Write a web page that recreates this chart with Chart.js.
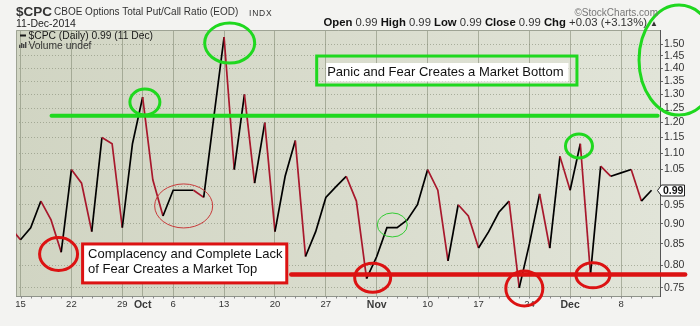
<!DOCTYPE html>
<html><head><meta charset="utf-8">
<script src="https://cdn.jsdelivr.net/npm/chart.js@4.4.0/dist/chart.umd.min.js"></script>
<style>
html,body{margin:0;padding:0;background:#f3f3f1;}
#wrap{position:relative;width:700px;height:326px;overflow:hidden;font-family:"Liberation Sans",Arial,sans-serif;}
canvas{position:absolute;left:0;top:0;}
.t{position:absolute;white-space:nowrap;line-height:1;color:#222;}
.t b{font-weight:bold;color:#111;}
</style></head><body>
<div id="wrap">
<canvas id="c" width="700" height="326"></canvas>
<div class="t" style="left:16px;top:4.5px;font-size:13.5px;font-weight:bold;color:#333;">$CPC</div>
<div class="t" style="left:54px;top:7px;font-size:10px;color:#333;">CBOE Options Total Put/Call Ratio (EOD)</div>
<div class="t" style="left:249px;top:8.5px;font-size:8.5px;letter-spacing:0.8px;color:#333;">INDX</div>
<div class="t" style="left:16px;top:17.6px;font-size:10.5px;color:#222;">11-Dec-2014</div>
<div class="t" style="right:42px;top:7.5px;font-size:10px;color:#777;">©StockCharts.com</div>
<div class="t" style="right:42px;top:16.5px;font-size:11.3px;color:#333;"><b>Open</b> 0.99 <b>High</b> 0.99 <b>Low</b> 0.99 <b>Close</b> 0.99 <b>Chg</b> +0.03 (+3.13%) <span style="font-size:8px">▲</span></div>
</div>
<script>
// ---- data ----
const dates = [
 'Sep 12','Sep 15','Sep 16','Sep 17','Sep 18','Sep 19','Sep 22','Sep 23','Sep 24','Sep 25','Sep 26','Sep 29','Sep 30',
 'Oct 1','Oct 2','Oct 3','Oct 6','Oct 7','Oct 8','Oct 9','Oct 10','Oct 13','Oct 14','Oct 15','Oct 16','Oct 17',
 'Oct 20','Oct 21','Oct 22','Oct 23','Oct 24','Oct 27','Oct 28','Oct 29','Oct 30','Oct 31',
 'Nov 3','Nov 4','Nov 5','Nov 6','Nov 7','Nov 10','Nov 11','Nov 12','Nov 13','Nov 14','Nov 17','Nov 18','Nov 19',
 'Nov 20','Nov 21','Nov 24','Nov 25','Nov 26','Nov 28',
 'Dec 1','Dec 2','Dec 3','Dec 4','Dec 5','Dec 8','Dec 9','Dec 10','Dec 11'
];
const ratios = [
 0.89,0.86,0.89,0.96,0.91,0.83,1.05,1.01,0.88,1.15,1.13,0.89,1.13,
 1.29,1.02,0.92,0.99,0.99,0.99,0.97,1.22,1.53,1.05,1.30,1.01,1.20,
 0.88,1.03,1.14,0.82,0.88,0.97,1.00,1.03,0.96,0.77,
 0.82,0.89,0.89,0.91,0.95,1.05,0.99,0.81,0.95,0.92,0.84,0.88,0.93,
 0.96,0.75,0.85,0.98,0.84,1.09,
 0.99,1.13,0.78,1.06,1.03,1.04,1.05,0.96,0.99
];
const tickDates  = ['Sep 15','Sep 22','Sep 29','Oct 1','Oct 6','Oct 13','Oct 20','Oct 27','Nov 3','Nov 10','Nov 17','Nov 24','Dec 1','Dec 8'];
const tickLabels = ['15','22','29','Oct','6','13','20','27','Nov','10','17','24','Dec','8'];
const monthLabels = ['Oct','Nov','Dec'];
const yTicks = [0.75,0.80,0.85,0.90,0.95,1.00,1.05,1.10,1.15,1.20,1.25,1.30,1.35,1.40,1.45,1.50];
const lastValue = ratios[ratios.length-1];

// ---- annotation config (data coordinates: x = trading-day index, y = ratio) ----
const GREEN = '#1fd81f', RED = '#dc1212';
const levelLines = [
  {from:4.05, to:63.6, value:1.2235, color:GREEN, width:4},
  {from:27.6, to:66.3, value:0.779, color:RED, width:4.5}
];
const rings = [
  {x:21.55, y:1.504, rx:25, ry:20, color:GREEN, w:3},
  {x:13.22, y:1.272, rx:15, ry:13, color:GREEN, w:3},
  {x:55.87, y:1.1226, rx:13.5, ry:12, color:GREEN, w:3},
  {x:65.7, y:1.433, rx:40, ry:55, color:GREEN, w:3},
  {x:4.74, y:0.826, rx:19, ry:16.5, color:RED, w:3},
  {x:17.03, y:0.9468, rx:29, ry:22, color:'#c83a3a', w:1},
  {x:35.6, y:0.772, rx:18, ry:14.5, color:RED, w:3},
  {x:37.53, y:0.897, rx:15, ry:12, color:'#33cc33', w:1},
  {x:50.5, y:0.749, rx:18.5, ry:17.5, color:RED, w:3},
  {x:57.24, y:0.7775, rx:17, ry:12.5, color:RED, w:3}
];
const noteBoxes = [
  {x0:30.1, x1:55.67, y0:1.4497, y1:1.335, color:GREEN, lines:['Panic and Fear Creates a Market Bottom'], fillAll:false},
  {x0:7.1, x1:27.16, y0:0.8498, y1:0.7608, color:RED, lines:['Complacency and Complete Lack','of Fear Creates a Market Top'], fillAll:true}
];

const FONT = '"Liberation Sans", Arial, sans-serif';
const tickIdx = tickDates.map(d => dates.indexOf(d));
const points = ratios.map((v,i) => ({x:i, y:v}));

const bgPlugin = {
  id:'bg',
  beforeDraw(chart){
    const {ctx, chartArea:a} = chart;
    ctx.save();
    ctx.fillStyle = '#f3f3f1';
    ctx.fillRect(0,0,chart.width,chart.height);
    const g = ctx.createLinearGradient(a.left,0,a.right,0);
    g.addColorStop(0,'#d1d5c3');
    g.addColorStop(0.5,'#d9dccd');
    g.addColorStop(1,'#e1e4d8');
    ctx.fillStyle = g;
    ctx.fillRect(a.left,a.top,a.right-a.left,a.bottom-a.top);
    ctx.restore();
  },
  beforeDatasetsDraw(chart){
    const {ctx, chartArea:a} = chart;
    ctx.save();
    ctx.strokeStyle = '#9ea394';
    ctx.lineWidth = 1;
    ctx.beginPath();
    ctx.moveTo(a.left+0.5, a.bottom); ctx.lineTo(a.left+0.5, a.top+0.5); ctx.lineTo(a.right, a.top+0.5);
    ctx.stroke();
    // minor day ticks on the x axis
    const xs = chart.scales.x;
    ctx.strokeStyle = '#8a8a8a';
    for (let i=0;i<dates.length;i++){
      const x = Math.round(xs.getPixelForValue(i))+0.5;
      if (x < a.left || x > a.right) continue;
      ctx.beginPath(); ctx.moveTo(x, a.bottom); ctx.lineTo(x, a.bottom+2.5); ctx.stroke();
    }
    ctx.restore();
  }
};

const notePlugin = {
  id:'notes',
  afterDatasetsDraw(chart){
    const {ctx, chartArea:a} = chart;
    const xs = chart.scales.x, ys = chart.scales.y;
    const px = v => xs.getPixelForValue(v), py = v => ys.getPixelForValue(v);
    ctx.save();
    // legend
    ctx.fillStyle = '#1a1a1a';
    ctx.fillRect(a.left+4, 34.5, 6, 2);
    ctx.font = '10.3px ' + FONT;
    ctx.textBaseline = 'alphabetic';
    ctx.fillText('$CPC (Daily) ' + lastValue.toFixed(2) + ' (11 Dec)', a.left+12.5, 38.8);
    ctx.fillStyle = '#444';
    [[0,3],[2,5],[4,4],[6,6]].forEach(([dx,h]) => ctx.fillRect(a.left+3+dx, 48-h, 1.4, h));
    ctx.fillStyle = '#333';
    ctx.fillText('Volume undef', a.left+12.5, 48.8);
    // level lines
    levelLines.forEach(l => {
      ctx.strokeStyle = l.color; ctx.lineWidth = l.width; ctx.lineCap = 'round';
      const y = py(l.value);
      ctx.beginPath(); ctx.moveTo(px(l.from), y); ctx.lineTo(px(l.to), y); ctx.stroke();
    });
    ctx.lineCap = 'butt';
    // note boxes
    noteBoxes.forEach(b => {
      const x0 = px(b.x0), x1 = px(b.x1), y0 = py(b.y0), y1 = py(b.y1);
      ctx.font = '13px ' + FONT;
      if (b.fillAll){
        ctx.fillStyle = '#ffffff';
        ctx.fillRect(x0, y0, x1-x0, y1-y0);
      } else {
        const w = ctx.measureText(b.lines[0]).width;
        ctx.fillStyle = '#ffffff';
        ctx.fillRect(x0+9.5, y0+7, w+6, 18.5);
      }
      ctx.strokeStyle = b.color; ctx.lineWidth = 3;
      ctx.strokeRect(x0, y0, x1-x0, y1-y0);
      ctx.fillStyle = '#111';
      if (b.fillAll){
        ctx.fillText(b.lines[0], x0+5.5, y0+14.5);
        ctx.fillText(b.lines[1], x0+5.5, y0+29.5);
      } else {
        ctx.fillText(b.lines[0], x0+10.5, y0+20);
      }
    });
    // rings
    rings.forEach(r => {
      ctx.strokeStyle = r.color; ctx.lineWidth = r.w;
      ctx.beginPath(); ctx.ellipse(px(r.x), py(r.y), r.rx, r.ry, 0, 0, Math.PI*2); ctx.stroke();
    });
    // last value marker
    const yv = Math.round(py(lastValue))+0.5;
    const xr = a.right;
    ctx.beginPath();
    ctx.moveTo(xr-2.5, yv);
    ctx.lineTo(xr+1.5, yv-5.5);
    ctx.lineTo(xr+24.5, yv-5.5);
    ctx.lineTo(xr+24.5, yv+5.5);
    ctx.lineTo(xr+1.5, yv+5.5);
    ctx.closePath();
    ctx.fillStyle = '#fff'; ctx.fill();
    ctx.strokeStyle = '#222'; ctx.lineWidth = 1; ctx.stroke();
    ctx.fillStyle = '#111';
    ctx.font = 'bold 10.5px ' + FONT;
    ctx.textAlign = 'center'; ctx.textBaseline = 'middle';
    ctx.fillText(lastValue.toFixed(2), xr+13.2, yv+0.5);
    ctx.restore();
  }
};

new Chart(document.getElementById('c'), {
  type:'line',
  data:{ datasets:[{
    data: points,
    borderWidth: 1.7,
    pointRadius: 0,
    tension: 0,
    borderColor: '#000',
    segment: { borderColor: ctx => ctx.p1.parsed.y >= ctx.p0.parsed.y ? '#000000' : '#a8182c' }
  }]},
  options:{
    responsive:false,
    animation:false,
    devicePixelRatio:1,
    layout:{ padding:{ left:16, top:30, right:0, bottom:0 } },
    plugins:{ legend:{display:false}, tooltip:{enabled:false} },
    scales:{
      x:{
        type:'linear',
        min:0.557, max:63.83,
        afterBuildTicks: s => { s.ticks = tickIdx.map(v => ({value:v})); },
        afterFit: s => { s.height = 30; },
        grid:{ color:'rgba(125,133,112,0.55)', lineWidth:1, drawTicks:false },
        border:{ display:true, color:'#8f948a', width:1 },
        ticks:{
          autoSkip:false, maxRotation:0, padding:3,
          callback: v => { const k = tickIdx.indexOf(v); return k >= 0 ? tickLabels[k] : ''; },
          color: c => monthLabels.includes(tickLabels[tickIdx.indexOf(c.tick && c.tick.value)]) ? '#3a3a3a' : '#333',
          font: c => ({ family:FONT, size: monthLabels.includes(tickLabels[tickIdx.indexOf(c.tick && c.tick.value)]) ? 10.5 : 9.5,
                        weight: monthLabels.includes(tickLabels[tickIdx.indexOf(c.tick && c.tick.value)]) ? 'bold' : 'normal' })
        }
      },
      y:{
        type:'logarithmic',
        position:'right',
        min:0.733, max:1.561,
        afterBuildTicks: s => { s.ticks = yTicks.map(v => ({value:v})); },
        afterFit: s => { s.width = 40; },
        grid:{ color:'rgba(125,133,112,0.55)', lineWidth:1, drawTicks:true, tickLength:3, tickColor:'#666' },
        border:{ display:true, color:'#555', width:1, dash:[1,2] },
        ticks:{
          autoSkip:false, padding:1, color:'#333',
          font:{ family:FONT, size:10.5 },
          callback: v => (Math.abs(v-1) < 1e-9 ? '' : Number(v).toFixed(2))
        }
      }
    }
  },
  plugins:[bgPlugin, notePlugin]
});
</script>
</body></html>
